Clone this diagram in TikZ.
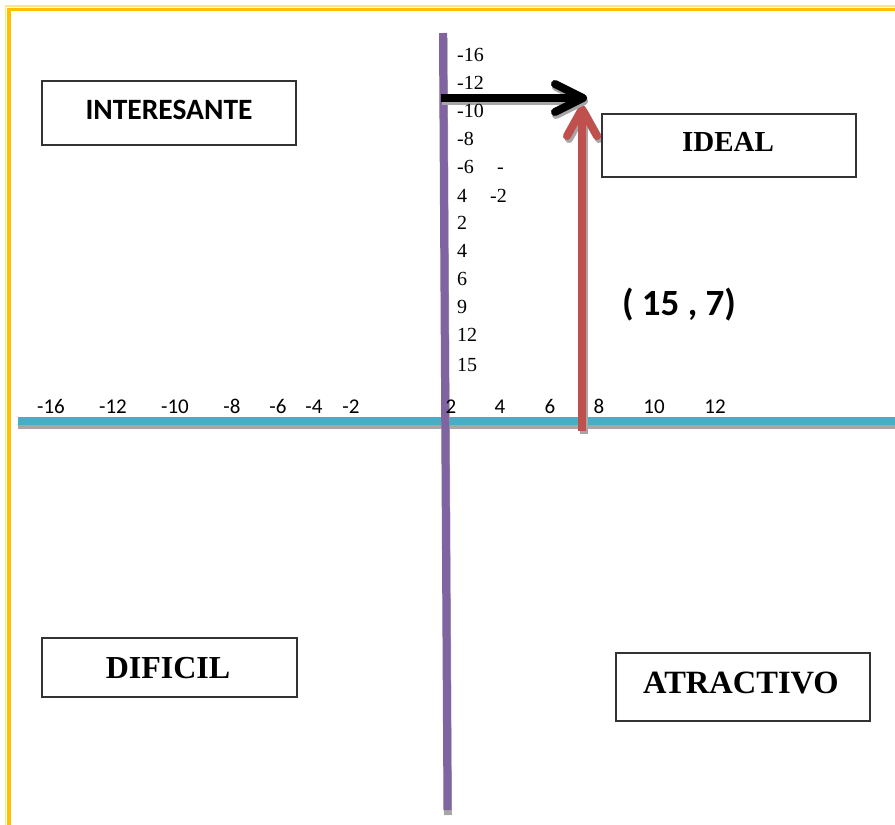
\documentclass[tikz,border=0pt]{standalone}
\usepackage{fontspec}
\usetikzlibrary{calc}
\newfontfamily\carlito{Carlito}
\newfontfamily\tnr{Liberation Serif}
\definecolor{gold}{HTML}{FFC000}
\definecolor{lightgold}{HTML}{FFE38A}
\definecolor{axpurple}{HTML}{8064A2}
\definecolor{axblue}{HTML}{4BACC6}
\definecolor{axred}{HTML}{C0504D}
\definecolor{shadowgray}{HTML}{A6A6A6}
\begin{document}
\begin{tikzpicture}[x=1pt,y=-1pt,
  qbox/.style={draw=black!80, line width=1.2pt, inner sep=0pt},
  qtext/.style={inner sep=0pt, text=black},
  vlab/.style={anchor=west, inner sep=0pt, font=\tnr\fontsize{20}{24}\selectfont, text height=13.5pt, text depth=0pt},
  hlab/.style={inner sep=0pt, font=\carlito\fontsize{21}{24}\selectfont, text height=13pt, text depth=0pt},
  shadowline/.style={draw=shadowgray, line width=8pt},
  axisline/.style={line width=8pt}
]
\useasboundingbox (0,0) rectangle (895,825);
% page border (double line)
\draw[lightgold, line width=1.7pt] (5.6,825) -- (5.6,6.2) -- (895,6.2);
\draw[gold, line width=3.3pt] (9,825) -- (9,9.7) -- (895,9.7);

% horizontal axis
\coordinate (hl) at (18,421);
\coordinate (hr) at (895,421);
\draw[shadowline] ($(hl)+(0,4)$) -- ($(hr)+(0,4)$);
\draw[axisline, axblue] (hl) -- (hr);

% vertical axis
\coordinate (vt) at (443,33);
\coordinate (vb) at (447.5,810);
\draw[shadowline] ($(vt)+(0.5,5)$) -- ($(vb)+(0.5,5)$);
\draw[axisline, axpurple] (vt) -- (vb);

% red arrow
\coordinate (rb) at (582,431);
\coordinate (rt) at (582,109);
\coordinate (rl) at (567,136);
\coordinate (rr) at (597,136);
\draw[shadowline] ($(rb)+(2,3)$) -- ($(rt)+(2,3)$);
\draw[shadowline, line cap=round, line join=round] ($(rl)+(2,3)$) -- ($(rt)+(2,3)$) -- ($(rr)+(2,3)$);
\draw[axisline, axred] (rb) -- ($(rt)+(0,4)$);
\draw[axisline, axred, line cap=round, line join=round] (rl) -- (rt) -- (rr);

% black arrow
\coordinate (bs) at (441,98);
\coordinate (bt) at (583,98);
\coordinate (bu) at (555,84);
\coordinate (bd) at (555,112);
\draw[shadowline] ($(bs)+(1,3)$) -- ($(bt)+(1,3)$);
\draw[shadowline, line cap=round, line join=round] ($(bu)+(1,3)$) -- ($(bt)+(1,3)$) -- ($(bd)+(1,3)$);
\draw[axisline, black] (bs) -- ($(bt)+(-4,0)$);
\draw[axisline, black, line cap=round, line join=round] (bu) -- (bt) -- (bd);

% boxes
\node[qbox, minimum width=254pt, minimum height=64pt] (inter) at (169,113) {};
\node[qtext, font=\carlito\bfseries\fontsize{29.5}{32}\selectfont] (intert) at (169,110) {INTERESANTE};
\node[qbox, minimum width=254pt, minimum height=63pt] (ideal) at (729,145.5) {};
\node[qtext, font=\tnr\bfseries\fontsize{29}{32}\selectfont] (idealt) at (728,142) {IDEAL};
\node[qbox, minimum width=255pt, minimum height=59pt] (dific) at (169.5,667.5) {};
\node[qtext, font=\tnr\bfseries\fontsize{32}{36}\selectfont] (difict) at (168,668) {DIFICIL};
\node[qbox, minimum width=254pt, minimum height=68pt] (atrac) at (743,687) {};
\node[qtext, font=\tnr\bfseries\fontsize{32.5}{36}\selectfont] (atract) at (741,683) {ATRACTIVO};

% point label
\node[qtext, font=\carlito\bfseries\fontsize{37}{40}\selectfont] (pt) at (679,305) {( 15 , 7)};

% vertical labels
\node[vlab] (v1) at (457,55) {-16};
\node[vlab] (v2) at (457,83) {-12};
\node[vlab] (v3) at (457,111) {-10};
\node[vlab] (v4) at (457,139) {-8};
\node[vlab] (v5) at (457,167) {-6};
\node[vlab] (v5b) at (497,167) {-};
\node[vlab] (v6) at (457,196) {4};
\node[vlab] (v6b) at (490,196) {-2};
\node[vlab] (v7) at (457,223) {2};
\node[vlab] (v8) at (457,251) {4};
\node[vlab] (v9) at (457,279) {6};
\node[vlab] (v10) at (457,307) {9};
\node[vlab] (v11) at (457,335) {12};
\node[vlab] (v12) at (457,365) {15};

% horizontal labels
\node[hlab] (h1) at (51,407) {-16};
\node[hlab] (h2) at (113,407) {-12};
\node[hlab] (h3) at (175,407) {-10};
\node[hlab] (h4) at (232,407) {-8};
\node[hlab] (h5) at (278,407) {-6};
\node[hlab] (h6) at (314,407) {-4};
\node[hlab] (h7) at (351,407) {-2};
\node[hlab] (h8) at (451,407) {2};
\node[hlab] (h9) at (500,407) {4};
\node[hlab] (h10) at (550,407) {6};
\node[hlab] (h11) at (599,407) {8};
\node[hlab] (h12) at (654,407) {10};
\node[hlab] (h13) at (715,407) {12};
\end{tikzpicture}
\end{document}
